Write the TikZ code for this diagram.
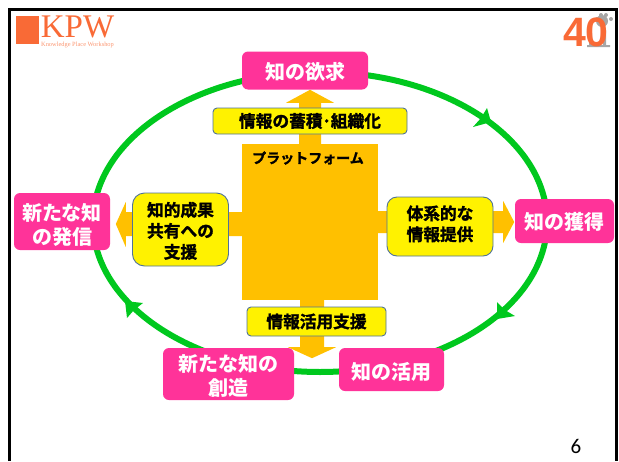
\documentclass[tikz,border=0pt]{standalone}
\usepackage{fontspec}
\usepackage{xcolor}
\setmainfont{Liberation Serif}
\newfontfamily\jpfont{Noto Sans CJK JP}
\newfontfamily\jpheavy[FakeBold=1.6]{Noto Sans CJK JP Bold}
\newfontfamily\pagefont{Carlito}
\newfontfamily\fortyfont{Liberation Sans}
\definecolor{kpworange}{HTML}{F96A36}
\definecolor{knowpink}{HTML}{FF3399}
\definecolor{cyclegreen}{HTML}{00C81E}
\definecolor{platorange}{HTML}{FFC000}
\definecolor{supportedge}{HTML}{4F7299}
% lines of text, set at a given height in their box
\newcommand{\boxlines}[2]{\raisebox{#1pt}[0pt][0pt]{\begin{tabular}{@{}c@{}}#2\end{tabular}}}
\tikzset{
  knowbox/.style={fill=knowpink,text=white,rounded corners=6pt,inner sep=0pt,
    font=\jpfont\bfseries\fontsize{20}{24}\selectfont},
  supportbox/.style={fill=yellow,draw=supportedge,line width=0.9pt,inner sep=0pt,
    font=\jpheavy\fontsize{16.7}{21}\selectfont},
  platarrow/.style={fill=platorange},
  cyclemark/.style={fill=cyclegreen}
}

\begin{document}
\begin{tikzpicture}[x=1pt,y=-1pt]
  \useasboundingbox (0,0) rectangle (619,461);
  \draw[line width=3pt] (9.5,461)--(9.5,9.5)--(616,9.5)--(616,461);

  % logos
  \fill[kpworange] (16,16) rectangle (39,44);
  \node[text=kpworange,inner sep=0pt,font=\fontsize{33}{33}\selectfont] (kpw) at (77.5,27) {KPW};
  \node[text=kpworange!70,inner sep=0pt,font=\fontsize{6.4}{7}\selectfont] (kpwsub) at (77.5,45) {Knowledge Place Workshop};
  \fill[gray!70] (602,21) circle (6pt) (597,19) circle (2pt) (606,15) circle (2pt) (601,15) circle (2pt) (611,19) circle (2pt);
  \fill[gray!70] (589,33) rectangle (592,46) (603,30) rectangle (606,46) (587,45) rectangle (610,47);
  \node[text=kpworange,inner sep=0pt,font=\fortyfont\bfseries\fontsize{41}{42}\selectfont] (forty) at (586,32) {40};

  % cycle
  \draw[cyclegreen,line width=6pt] (320,222) ellipse [x radius=227,y radius=150];
  \fill[cyclemark] (487,108)--(481,118)--(473,127)--(491,122)--cycle;
  \fill[cyclemark] (515,316)--(505,310)--(497,302)--(497,319)--cycle;
  \fill[cyclemark] (143,303)--(134,310)--(127,318)--(125,301)--cycle;

  % platform and its arrows
  \node[fill=platorange,minimum width=136pt,minimum height=156pt,inner sep=0pt] (platform) at (310,222) {};
  \path[platarrow] (platform.north)++(-11,0)--++(0,-41)--++(-13,0)--++(24,-13)--++(24,13)--++(-13,0)--++(0,41)--cycle;
  \path[platarrow] (platform.south)++(-10,0)--++(0,47)--++(-12,0)--++(24,11)--++(24,-11)--++(-12,0)--++(0,-47)--cycle;
  \path[platarrow] (platform.west)++(0,-10)--++(-116,0)--++(0,-10)--++(-10,22)--++(10,23)--++(0,-11)--++(116,0)--cycle;
  \path[platarrow] (platform.east)++(0,-11)--++(125,0)--++(0,-10)--++(11,21)--++(-11,21)--++(0,-10)--++(-125,0)--cycle;
  \node[inner sep=0pt,font=\jpheavy\fontsize{14}{16}\selectfont] (plattext) at (308,158) {プラットフォーム};

  % pink boxes
  \node[knowbox,minimum width=126pt,minimum height=38pt] (desire) at (305,70.5) {\boxlines{-9.3}{知の欲求}};
  \node[knowbox,minimum width=96pt,minimum height=57pt] (publish) at (62,221.5) {\boxlines{-11.3}{新たな知\\の発信}};
  \node[knowbox,minimum width=99pt,minimum height=44pt] (acquire) at (564.5,221) {\boxlines{-8.8}{知の獲得}};
  \node[knowbox,minimum width=131pt,minimum height=52pt] (create) at (228.5,374) {\boxlines{-9.8}{新たな知の\\創造}};
  \node[knowbox,minimum width=105pt,minimum height=43pt] (use) at (391.5,369.5) {\boxlines{-10.3}{知の活用}};

  % yellow boxes
  \node[supportbox,rounded corners=4pt,minimum width=194pt,minimum height=26pt] (store) at (310,121) {情報の蓄積･組織化};
  \node[supportbox,rounded corners=12pt,minimum width=96pt,minimum height=73pt] (share) at (180.5,229.5) {\boxlines{-7.8}{知的成果\\共有への\\支援}};
  \node[supportbox,rounded corners=10pt,minimum width=106pt,minimum height=59pt] (provide) at (440,226.5) {\boxlines{-3.8}{体系的な\\情報提供}};
  \node[supportbox,rounded corners=4pt,minimum width=139pt,minimum height=29pt] (usehelp) at (316.5,321.5) {情報活用支援};

  \node[inner sep=0pt,font=\pagefont\fontsize{21}{24}\selectfont] (pagenum) at (576,446) {6};
\end{tikzpicture}
\end{document}
